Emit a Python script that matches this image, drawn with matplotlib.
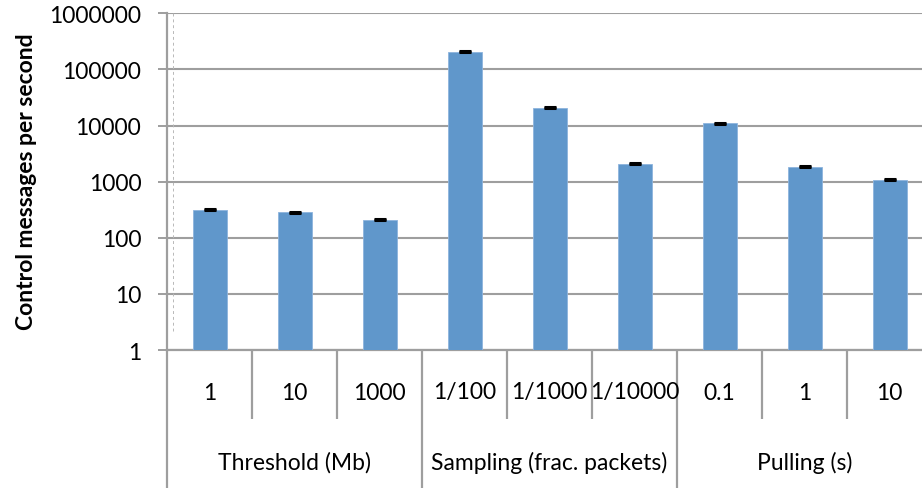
import matplotlib
matplotlib.use("Agg")
import matplotlib.pyplot as plt
from matplotlib.transforms import blended_transform_factory

# Data
groups = ["Threshold (Mb)", "Sampling (frac. packets)", "Pulling (s)"]
settings = ["1", "10", "1000", "1/100", "1/1000", "1/10000", "0.1", "1", "10"]
group_sizes = [3, 3, 3]
messages = [315, 287, 209, 208000, 20600, 2070, 10900, 1850, 1090]
errors = [6, 5, 4, 4000, 400, 40, 200, 35, 20]
y_ticks = [1, 10, 100, 1000, 10000, 100000, 1000000]

W, H = 922, 489
fig = plt.figure(figsize=(W / 100, H / 100), dpi=100)
plt.rcParams["font.family"] = ["Lato", "DejaVu Sans"]

grey = "#9E9E9E"
bar_color = "#6097CB"
fs = 16.5

# axes: left edge at x=167px, 1e6 at y=14px, 1 at y=351px, category width 85px
left, top, bottom = 167, 14.3, 351
cat_w = 85
n = len(settings)
ax = fig.add_axes([left / W, (H - bottom) / H, n * cat_w / W, (bottom - top) / H])

x = list(range(n))
ax.bar(x, messages, width=0.40, color=bar_color, edgecolor="#8DB4DE",
       linewidth=0.6, zorder=3)
ax.errorbar(x, messages, yerr=errors, fmt="none", ecolor="black",
            elinewidth=0.8, capsize=4, capthick=2.2, zorder=4)

ax.set_yscale("log")
ax.set_ylim(1, 1000000)
ax.set_xlim(-0.5, n - 0.5)
ax.set_yticks(y_ticks)
ax.set_yticklabels([str(v) for v in y_ticks])
ax.minorticks_off()
ax.yaxis.grid(True, color=grey, linewidth=1.5, zorder=0)
ax.set_axisbelow(True)

for s in ["top", "right"]:
    ax.spines[s].set_visible(False)
for s in ["left", "bottom"]:
    ax.spines[s].set_color(grey)
    ax.spines[s].set_linewidth(1.6)

ax.tick_params(axis="y", direction="out", length=6.5, width=1.4, color=grey,
               labelsize=fs, labelcolor="black", pad=12)
ax.set_xticks([])

ax.set_ylabel("Control messages per second", fontsize=fs, fontweight="bold")
ax.yaxis.set_label_coords(-0.170, 0.503)

# thin dotted guide next to the value axis
ax.plot([6.3 / (n * cat_w)] * 2, [0.055, 1.0], transform=ax.transAxes,
        color="#B8B8B8", linewidth=0.7, linestyle=(0, (3, 3)), zorder=1)

# two-level category axis below the plot
ax_h = bottom - top
def py(p):
    return (bottom - p) / ax_h

tr = blended_transform_factory(ax.transData, ax.transAxes)
boundaries = [i - 0.5 for i in range(n + 1)]
group_edges = [-0.5]
for g in group_sizes:
    group_edges.append(group_edges[-1] + g)

for b in boundaries:
    end = py(H + 5) if b in group_edges else py(420)
    ax.plot([b, b], [0, end], transform=tr, color=grey, linewidth=1.6,
            clip_on=False, solid_capstyle="butt")

for i, lab in enumerate(settings):
    ax.text(i, py(393), lab, transform=tr, ha="center", va="center",
            fontsize=fs)

for g, lab in enumerate(groups):
    c = (group_edges[g] + group_edges[g + 1]) / 2
    ax.text(c, py(463), lab, transform=tr, ha="center", va="center",
            fontsize=fs)

fig.savefig("out.png", dpi=100)
